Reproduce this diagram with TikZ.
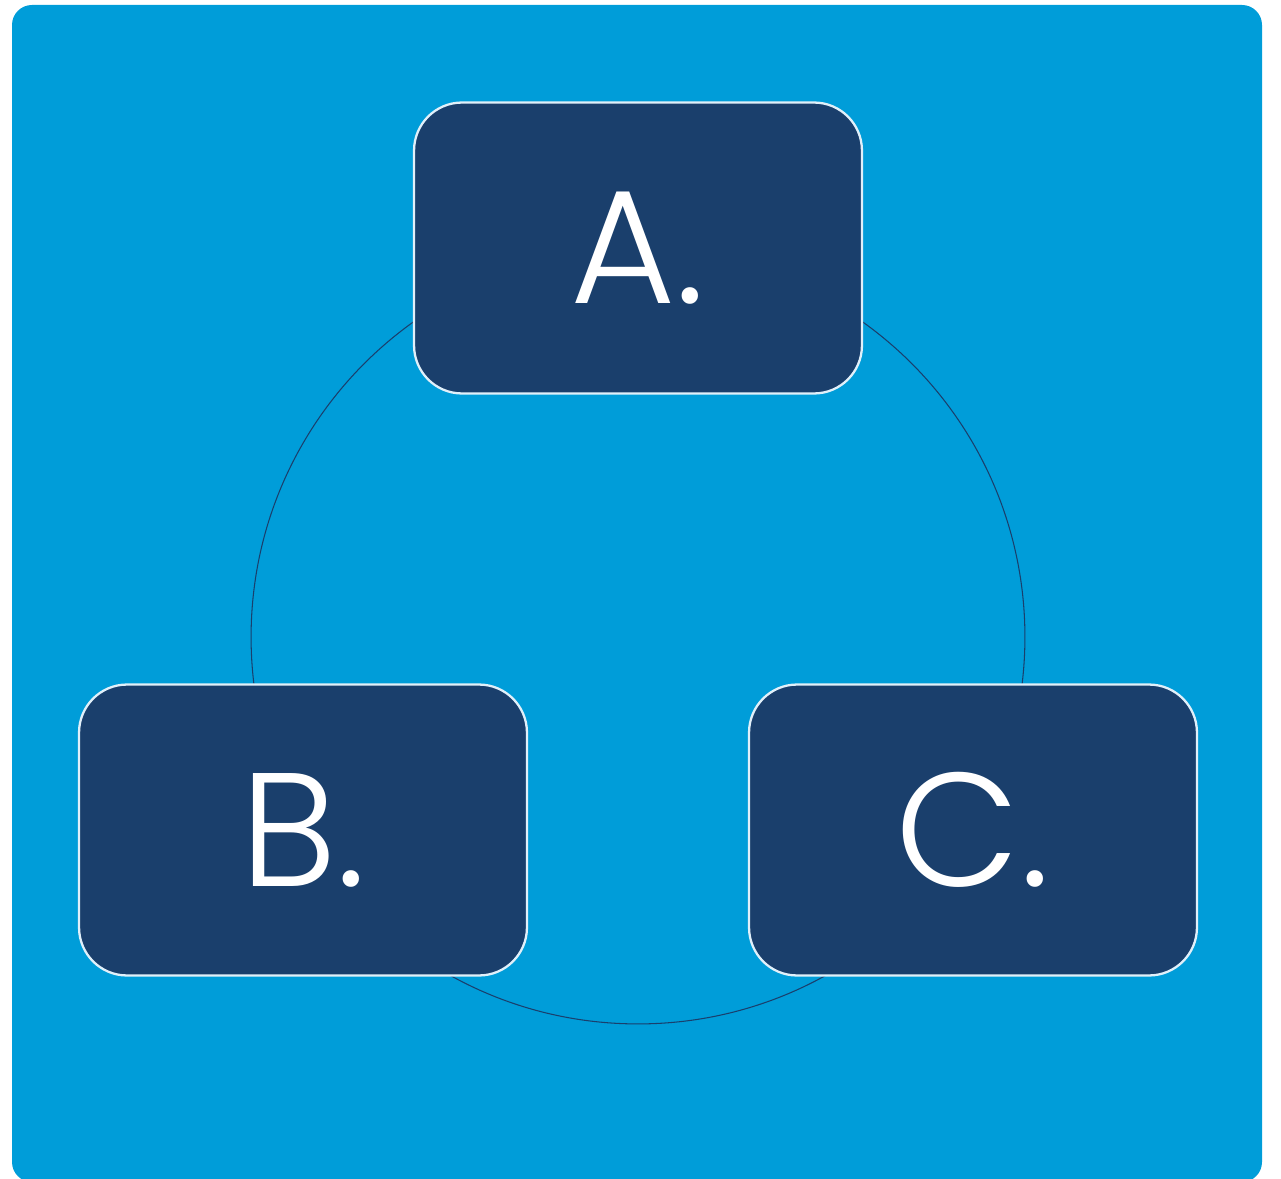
\documentclass[tikz,border=0pt]{standalone}
\usepackage{fontspec}
\setmainfont{Poppins Light}
\definecolor{skyblue}{RGB}{0,157,217}
\definecolor{navy}{RGB}{26,63,108}
\definecolor{rimwhite}{RGB}{225,240,250}
\tikzset{
  stagebox/.style={draw=rimwhite, line width=1.3pt, fill=navy, rounded corners=0.96cm,
    minimum width=8.96cm, minimum height=5.82cm, text=white,
    font=\fontsize{92}{92}\selectfont},
}

\begin{document}
\begin{tikzpicture}[x=0.02cm, y=-0.02cm]
		\useasboundingbox (0,0) rectangle (1281,1179);
		\fill[skyblue, rounded corners=0.4cm] (12,5) rectangle (1262,1182);
		\draw[navy, line width=0.6pt] (638,637) circle (7.74cm);
		\node[stagebox] (A) at (638,248) {A.};
		\node[stagebox] (B) at (303,830) {B.};
		\node[stagebox] (C) at (973,830) {C.};
	\end{tikzpicture}
\end{document}
